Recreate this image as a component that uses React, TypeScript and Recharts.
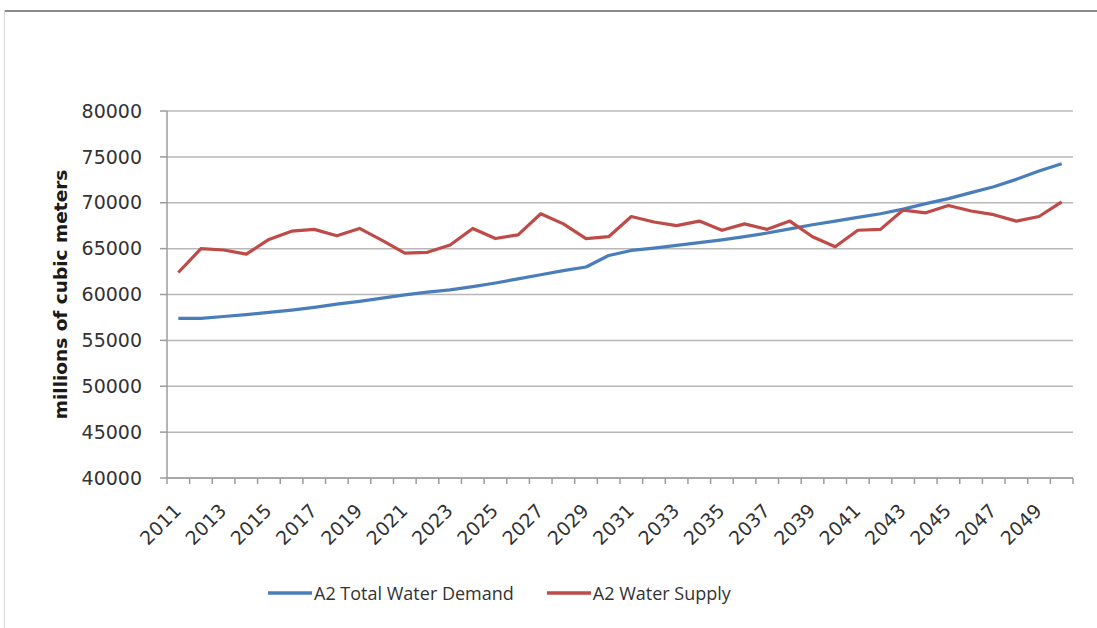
import React from 'react';
import { LineChart, Line, XAxis, YAxis, CartesianGrid, Legend } from 'recharts';

// Years on the category axis
const YEARS = [
  2011, 2012, 2013, 2014, 2015, 2016, 2017, 2018, 2019, 2020,
  2021, 2022, 2023, 2024, 2025, 2026, 2027, 2028, 2029, 2030,
  2031, 2032, 2033, 2034, 2035, 2036, 2037, 2038, 2039, 2040,
  2041, 2042, 2043, 2044, 2045, 2046, 2047, 2048, 2049, 2050,
];

// A2 Total Water Demand (millions of cubic meters)
const DEMAND = [
  57400, 57400, 57600, 57800, 58050, 58300, 58600, 58950, 59250, 59600,
  59950, 60250, 60500, 60850, 61250, 61700, 62150, 62600, 63000, 64250,
  64800, 65050, 65350, 65650, 65950, 66300, 66700, 67150, 67600, 68000,
  68400, 68800, 69300, 69900, 70450, 71100, 71750, 72550, 73450, 74250,
];

// A2 Water Supply (millions of cubic meters)
const SUPPLY = [
  62400, 65000, 64850, 64400, 66000, 66900, 67100, 66400, 67200, 65900,
  64500, 64600, 65400, 67200, 66100, 66500, 68800, 67700, 66100, 66300,
  68500, 67900, 67500, 68000, 67000, 67700, 67100, 68000, 66300, 65200,
  67000, 67100, 69200, 68900, 69700, 69100, 68700, 68000, 68500, 70100,
];

const Y_TICKS = [40000, 45000, 50000, 55000, 60000, 65000, 70000, 75000, 80000];
const SERIES_NAMES = ['A2 Total Water Demand', 'A2 Water Supply'];
const Y_TITLE = 'millions of cubic meters';

const BLUE = '#4a7ebb';
const RED = '#be4b48';
const AXIS = '#9c9c9c';
const GRID = '#b8b8b8';
const TEXT = '#333333';

const data = YEARS.map((year, i) => ({ year, demand: DEMAND[i], supply: SUPPLY[i] }));

// Every other year is labelled; tick marks sit on the boundaries between years
const labelYears = YEARS.filter((_, i) => i % 2 === 0);
const boundaries = [...YEARS.map((y) => y - 0.5), YEARS[YEARS.length - 1] + 0.5];
const xTicks = [...boundaries, ...labelYears].sort((a, b) => a - b);

function XTick(props: any) {
  const { x, y, payload } = props;
  const v = payload.value as number;
  if (!Number.isInteger(v)) {
    return <line x1={x} x2={x} y1={y} y2={y + 6} stroke={AXIS} strokeWidth={1.5} />;
  }
  const ax = x + 4;
  const ay = y + 34;
  return (
    <text
      x={ax}
      y={ay}
      transform={`rotate(-45 ${ax} ${ay})`}
      textAnchor="end"
      fontFamily="DejaVu Sans"
      fontSize={19}
      fill={TEXT}
    >
      {v}
    </text>
  );
}

function YTitle(props: any) {
  const vb = props.viewBox || { x: 0, y: 111, width: 167, height: 367 };
  const cx = vb.x + 60;
  const cy = vb.y + vb.height / 2;
  return (
    <text
      x={cx}
      y={cy}
      transform={`rotate(-90 ${cx} ${cy})`}
      textAnchor="middle"
      dominantBaseline="central"
      fontFamily="DejaVu Sans"
      fontWeight="bold"
      fontSize={18.5}
      fill="#1a1a1a"
    >
      {Y_TITLE}
    </text>
  );
}

function LegendContent(props: any) {
  const payload = props.payload || [];
  return (
    <div
      style={{
        display: 'flex',
        alignItems: 'center',
        fontFamily: 'Open Sans',
        fontSize: 18,
        color: TEXT,
        whiteSpace: 'nowrap',
      }}
    >
      {payload.map((p: any, i: number) => (
        <div
          key={p.value}
          style={{ display: 'flex', alignItems: 'center', marginRight: i === 0 ? 33 : 0 }}
        >
          <svg width={44} height={6} style={{ display: 'block' }}>
            <line x1={0} y1={3} x2={44} y2={3} stroke={p.color} strokeWidth={3.5} />
          </svg>
          <span style={{ marginLeft: 2 }}>{p.value}</span>
        </div>
      ))}
    </div>
  );
}

export default function App() {
  return (
    <div
      style={{
        position: 'absolute',
        left: 0,
        top: 0,
        width: 1097,
        height: 628,
        background: '#ffffff',
        overflow: 'hidden',
      }}
    >
      <div
        style={{ position: 'absolute', left: 4, right: 0, top: 10, height: 2, background: '#8a8a8a' }}
      />
      <div
        style={{ position: 'absolute', left: 4, top: 10, bottom: 0, width: 1, background: '#d8d8d8' }}
      />
      <div style={{ position: 'absolute', left: 0, top: 0 }}>
        <LineChart
          width={1097}
          height={628}
          data={data}
          margin={{ top: 111, right: 24, bottom: 90, left: 0 }}
        >
          <CartesianGrid vertical={false} stroke={GRID} strokeWidth={1.5} />
          <XAxis
            dataKey="year"
            type="number"
            domain={[2010.5, 2050.5]}
            ticks={xTicks}
            interval={0}
            tick={<XTick />}
            tickLine={false}
            tickSize={0}
            tickMargin={0}
            height={60}
            stroke={AXIS}
            strokeWidth={1.5}
          />
          <YAxis
            domain={[40000, 80000]}
            ticks={Y_TICKS}
            interval={0}
            width={167}
            tickSize={7}
            tickMargin={18}
            stroke={AXIS}
            strokeWidth={1.5}
            tick={{ fontFamily: 'DejaVu Sans', fontSize: 19, fill: TEXT }}
            label={YTitle}
          />
          <Legend
            verticalAlign="middle"
            align="center"
            layout="horizontal"
            content={LegendContent}
            wrapperStyle={{ top: 581, left: 268, width: 'auto' }}
          />
          <Line
            type="linear"
            dataKey="demand"
            name={SERIES_NAMES[0]}
            stroke={BLUE}
            strokeWidth={3.2}
            dot={false}
            activeDot={false}
            strokeLinejoin="round"
            isAnimationActive={false}
          />
          <Line
            type="linear"
            dataKey="supply"
            name={SERIES_NAMES[1]}
            stroke={RED}
            strokeWidth={3.2}
            dot={false}
            activeDot={false}
            strokeLinejoin="round"
            isAnimationActive={false}
          />
        </LineChart>
      </div>
    </div>
  );
}
